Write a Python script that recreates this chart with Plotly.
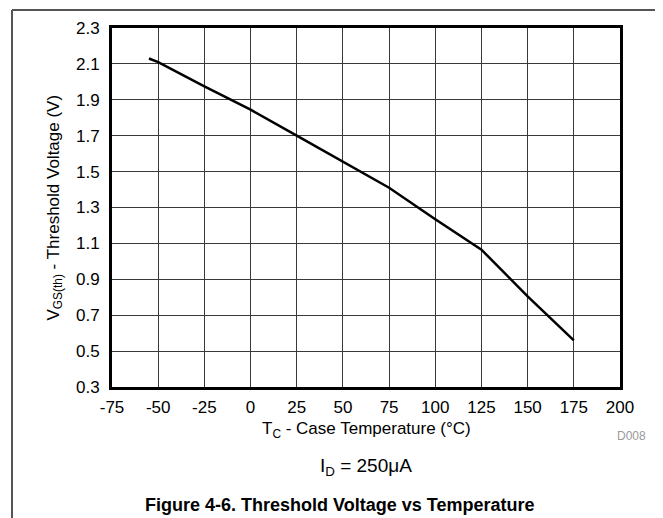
import plotly.graph_objects as go

# Data
temperature_c = [-55, -50, -25, 0, 25, 50, 75, 100, 125, 150, 175]
threshold_v = [2.13, 2.11, 1.975, 1.845, 1.70, 1.555, 1.41, 1.235, 1.065, 0.805, 0.56]

x_ticks = [-75, -50, -25, 0, 25, 50, 75, 100, 125, 150, 175, 200]
y_ticks = [0.3, 0.5, 0.7, 0.9, 1.1, 1.3, 1.5, 1.7, 1.9, 2.1, 2.3]

FONT = "Liberation Sans, Arial, sans-serif"
W, H = 663, 518
L, R, T, B = 104, 51, 20, 139
PW, PH = W - L - R, H - T - B

def px(xp):
    return (xp - L) / PW

def py(yp):
    return (H - B - yp) / PH

fig = go.Figure()
fig.add_trace(go.Scatter(
    x=temperature_c, y=threshold_v, mode="lines",
    line=dict(color="black", width=2.5),
    showlegend=False, hoverinfo="skip",
))

axis_common = dict(
    showgrid=True, gridcolor="#3a3a3a", gridwidth=1,
    showline=True, linecolor="black", linewidth=3, mirror=True,
    zeroline=False, ticks="", tickfont=dict(family=FONT, size=17, color="black"),
)
fig.update_xaxes(range=[-75, 200], tickvals=x_ticks,
                 ticktext=[str(v) for v in x_ticks], ticklabelstandoff=3,
                 **axis_common)
fig.update_yaxes(range=[0.3, 2.3], tickvals=y_ticks,
                 ticktext=[f"{v:.1f}" for v in y_ticks], ticklabelstandoff=6,
                 **axis_common)

annotations = [
    dict(text="T<sub>C</sub> - Case Temperature (°C)", x=0.5, y=py(421.5),
         xanchor="center", yanchor="middle", font=dict(size=17)),
    dict(text="V<sub>GS(th)</sub> - Threshold Voltage (V)", x=px(46), y=0.5,
         xanchor="center", yanchor="middle", textangle=-90, font=dict(size=17)),
    dict(text="D008", x=px(623), y=py(428), xanchor="center", yanchor="middle",
         font=dict(size=12, color="#9a9a9a")),
    dict(text="I<sub>D</sub> = 250μA", x=0.5, y=py(459), xanchor="center",
         yanchor="middle", font=dict(size=19)),
    dict(text="<b>Figure 4-6. Threshold Voltage vs Temperature</b>", x=px(331),
         y=py(497), xanchor="center", yanchor="middle", font=dict(size=18)),
]
for a in annotations:
    a.update(xref="paper", yref="paper", showarrow=False)
    a["font"].setdefault("color", "black")
    a["font"]["family"] = FONT

shapes = [
    dict(type="line", xref="paper", yref="paper", x0=px(4), x1=px(663),
         y0=py(2), y1=py(2), line=dict(color="#555555", width=2)),
    dict(type="line", xref="paper", yref="paper", x0=px(4), x1=px(4),
         y0=py(2), y1=py(518), line=dict(color="#555555", width=2)),
]

fig.update_layout(
    width=W, height=H, margin=dict(l=L, r=R, t=T, b=B, pad=0),
    paper_bgcolor="white", plot_bgcolor="white",
    font=dict(family=FONT, color="black"),
    annotations=annotations, shapes=shapes,
)

fig.write_html("out.html")
